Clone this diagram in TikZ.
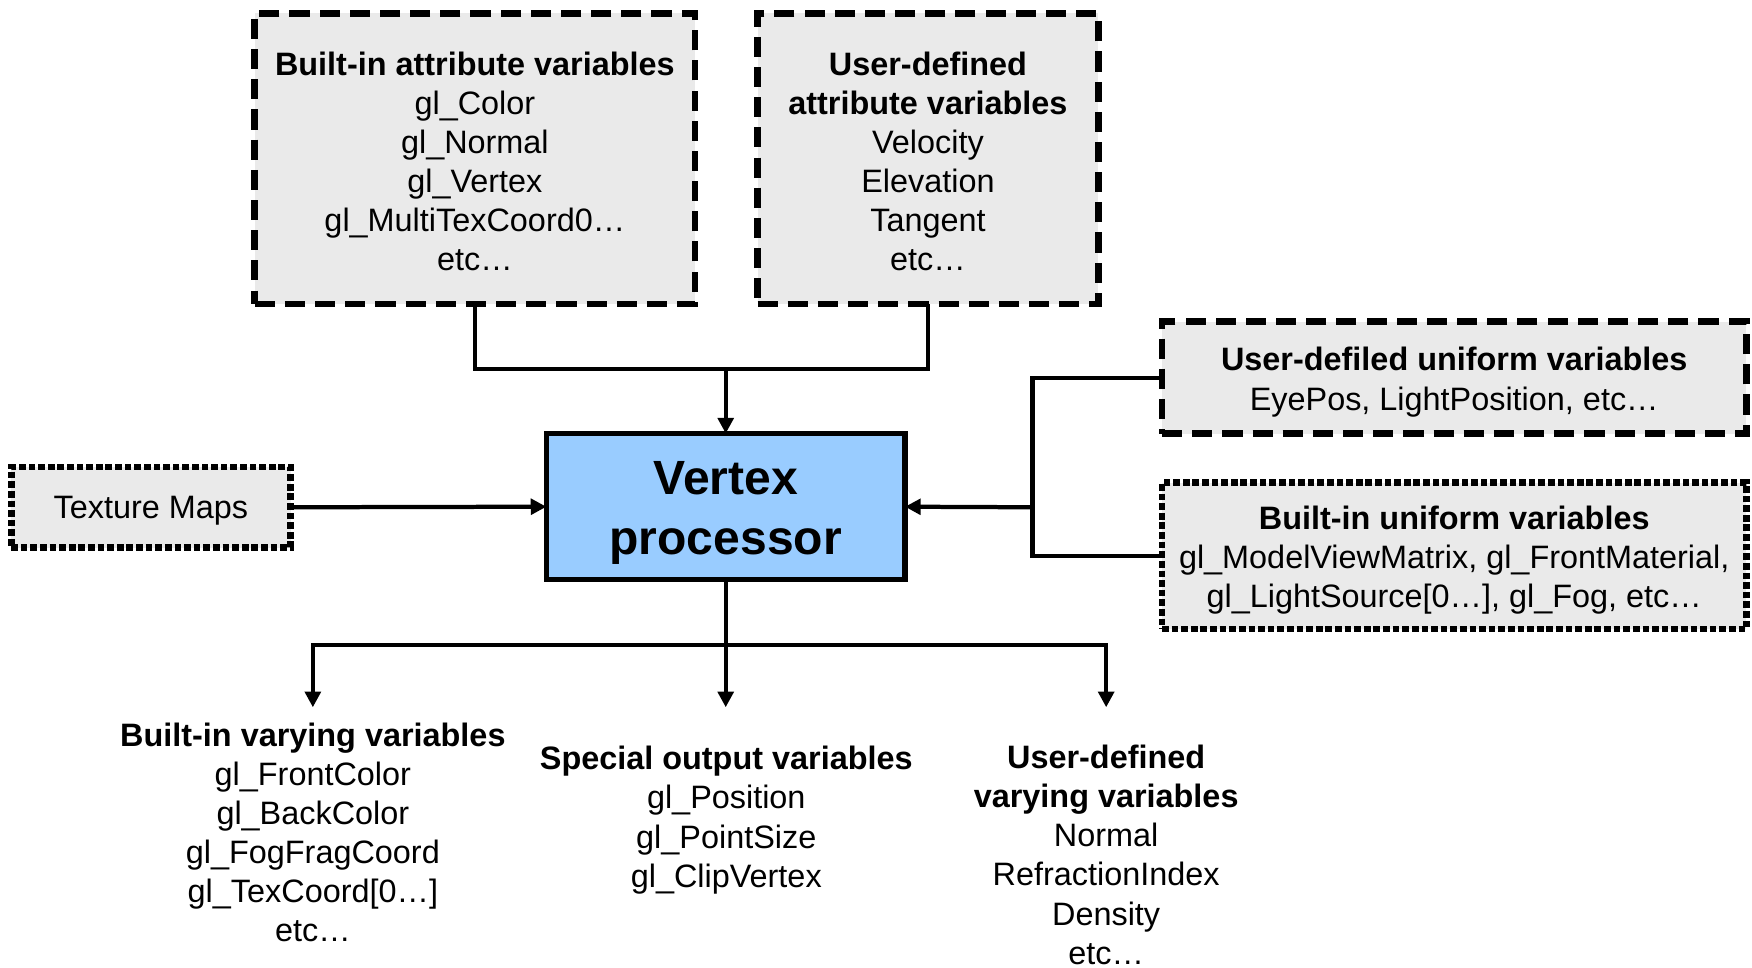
\documentclass[tikz,border=0pt]{standalone}
\usepackage{fontspec}
\setmainfont{Liberation Sans}
\usetikzlibrary{arrows.meta}
\definecolor{boxgray}{HTML}{EAEAEA}
\definecolor{vblue}{HTML}{99CCFF}
\newcommand\topgap[1]{\rule{0pt}{#1}}
\tikzset{
  txt/.style={font=\fontsize{14.5}{17.5}\selectfont, align=center, inner sep=0pt},
  dashbox/.style={txt, draw, fill=boxgray, line width=3pt, dash pattern=on 9pt off 4.5pt, outer sep=0pt},
  dotbox/.style={txt, draw, fill=boxgray, line width=3pt, dash pattern=on 3pt off 1.3pt, outer sep=0pt},
  conn/.style={line width=1.9pt},
  arr/.style={conn, -{Triangle[length=7pt,width=7pt]}},
}
\begin{document}
\begin{tikzpicture}[x=0.5pt,y=-0.5pt]
\useasboundingbox (0,0) rectangle (1568,866);
\node[dashbox, minimum width=197pt, minimum height=130pt] (A) at (425,142)
  {\topgap{13pt}\textbf{Built-in attribute variables}\\gl\_Color\\gl\_Normal\\gl\_Vertex\\gl\_MultiTexCoord0…\\etc…};
\node[dashbox, minimum width=152.5pt, minimum height=130pt] (B) at (830.5,142)
  {\topgap{13pt}\textbf{User-defined}\\\textbf{attribute variables}\\Velocity\\Elevation\\Tangent\\etc…};
\node[draw, fill=vblue, line width=2.3pt, minimum width=160.5pt, minimum height=65.5pt, outer sep=0pt,
  font=\fontsize{21.5}{26.5}\selectfont\bfseries, align=center, inner sep=0pt] (V) at (649.5,453.5)
  {\topgap{20.4pt}Vertex\\processor};
\node[dotbox, minimum width=125pt, minimum height=36pt] (T) at (135,454) {\topgap{13.4pt}Texture Maps};
\node[dashbox, minimum width=261.5pt, minimum height=50pt] (U) at (1301.5,338)
  {\topgap{14.5pt}\textbf{User-defiled uniform variables}\\EyePos, LightPosition, etc…};
\node[dotbox, minimum width=261.5pt, minimum height=65.5pt] (BU) at (1301.5,497.5)
  {\topgap{14.5pt}\textbf{Built-in uniform variables}\\gl\_ModelViewMatrix, gl\_FrontMaterial,\\gl\_LightSource[0…], gl\_Fog, etc…};
\node[txt] (L) at (280,745)
  {\textbf{Built-in varying variables}\\gl\_FrontColor\\gl\_BackColor\\gl\_FogFragCoord\\gl\_TexCoord[0…]\\etc…};
\node[txt] (M) at (650,734)
  {\textbf{Special output variables}\\gl\_Position\\gl\_PointSize\\gl\_ClipVertex};
\node[txt] (R) at (990,765)
  {\textbf{User-defined}\\\textbf{varying variables}\\Normal\\RefractionIndex\\Density\\etc…};
\coordinate (j1) at (649.5,330);
\coordinate (j2) at (924,454);
\coordinate (j3) at (649.5,577);
\coordinate (c1) at (280,633);
\coordinate (c2) at (649.5,633);
\coordinate (c3) at (990,633);
\draw[conn] (A.south) |- (j1) -| (B.south);
\draw[arr] (j1) -- (V.north);
\draw[arr] (T.east) -- (V.west);
\draw[conn] (U.west) -| (j2) |- (BU.west);
\draw[arr] (j2) -- (V.east);
\draw[conn] (V.south) -- (j3);
\draw[arr] (j3) -| (c1);
\draw[arr] (j3) -| (c3);
\draw[arr] (j3) -- (c2);
\end{tikzpicture}
\end{document}
